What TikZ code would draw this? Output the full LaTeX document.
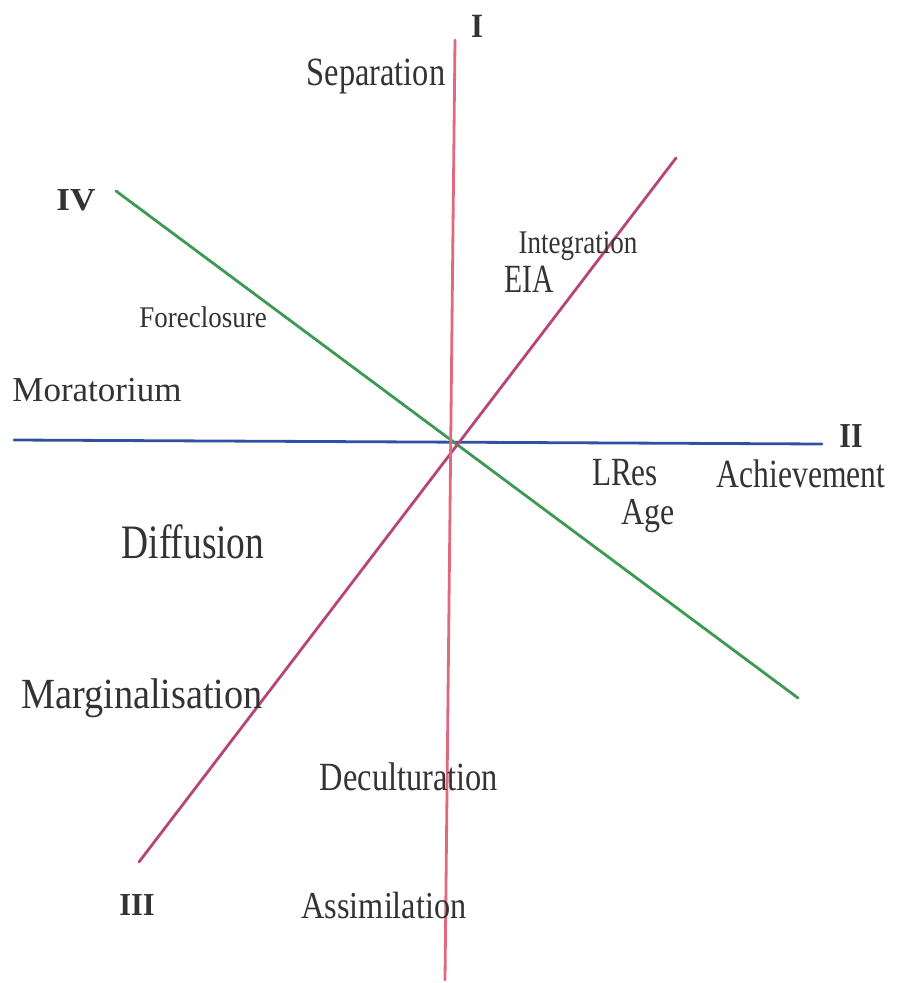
\documentclass[tikz,border=0pt]{standalone}
\usepackage{fontspec}
\setmainfont{Liberation Serif}
\begin{document}
\begin{tikzpicture}[x=1pt,y=-1pt,
  axis/.style={line width=2.8pt, line cap=round},
  lbl/.style={anchor=base, inner sep=0pt, text=black!80},
  fs/.style={font=\fontsize{#1}{#1}\selectfont},
  bf/.style={font=\fontsize{#1}{#1}\selectfont\bfseries}]
\fill[white] (0,0) rectangle (898,983);
\useasboundingbox (0,0) rectangle (898,983);
\definecolor{axred}{HTML}{E2687E}
\definecolor{axcrim}{HTML}{B8457A}
\definecolor{axblue}{HTML}{3050A2}
\definecolor{axgreen}{HTML}{3E9A52}
% end points
\coordinate (Rt) at (455,40);
\coordinate (Rb) at (445,980);
\coordinate (Bl) at (14,440);
\coordinate (Br) at (822,444);
\coordinate (Gl) at (116,191);
\coordinate (Gr) at (798,698);
\coordinate (Ct) at (676,158);
\coordinate (Cb) at (139,862);
\draw[axis, axblue] (Bl) -- (Br);
\draw[axis, axgreen] (Gl) -- (Gr);
\draw[axis, axcrim] (Ct) -- (Cb);
\draw[axis, axred] (Rt) -- (Rb);
% labels
\node[lbl, bf=34, xscale=0.9] (nI) at (477,37) {I};
\node[lbl, fs=40, xscale=0.81] (sep) at (376,85) {Separation};
\node[lbl, bf=32, xscale=1.1] (nIV) at (76,210) {IV};
\node[lbl, fs=33, xscale=0.82] (integ) at (578,253) {Integration};
\node[lbl, fs=40, xscale=0.74] (eia) at (529,292) {EIA};
\node[lbl, fs=30, xscale=0.9] (fore) at (203,327) {Foreclosure};
\node[lbl, fs=35, xscale=1.0] (mora) at (97,401) {Moratorium};
\node[lbl, bf=35, xscale=0.85] (nII) at (851,447) {II};
\node[lbl, fs=40, xscale=0.78] (lres) at (625,485) {LRes};
\node[lbl, fs=40, xscale=0.79] (ach) at (801,487) {Achievement};
\node[lbl, fs=38, xscale=0.84] (age) at (648,524) {Age};
\node[lbl, fs=48, xscale=0.78] (diff) at (193,558) {Diffusion};
\node[lbl, fs=43, xscale=0.89] (marg) at (142,708) {Marginalisation};
\node[lbl, fs=40, xscale=0.81] (decu) at (409,790) {Deculturation};
\node[lbl, bf=32, xscale=0.95] (nIII) at (137,915) {III};
\node[lbl, fs=38, xscale=0.85] (assi) at (384,918) {Assimilation};
\end{tikzpicture}
\end{document}
